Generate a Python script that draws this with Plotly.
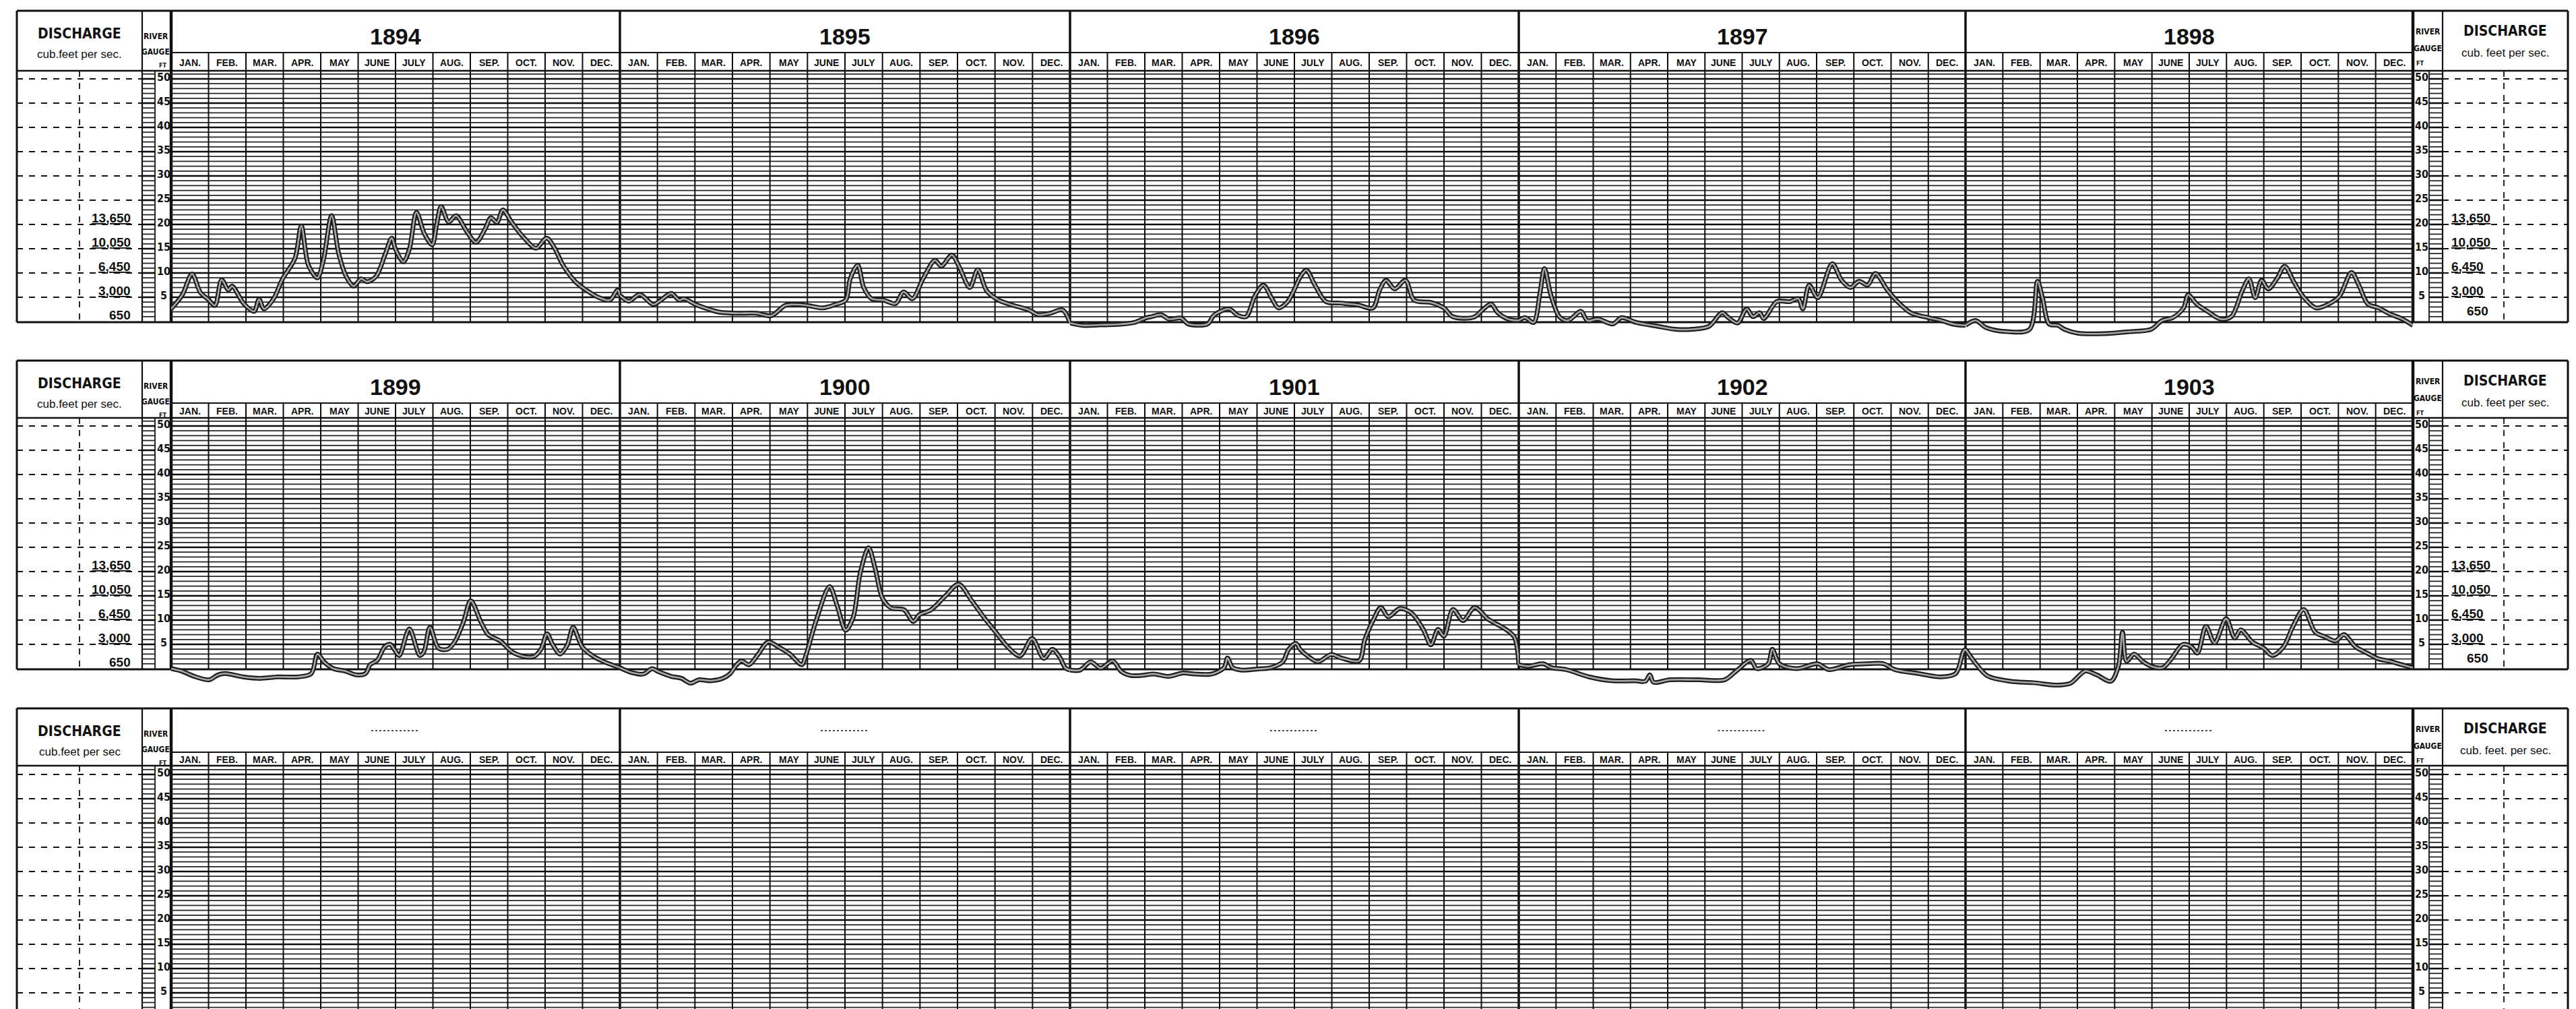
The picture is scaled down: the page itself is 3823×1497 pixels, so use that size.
import plotly.graph_objects as go

W, H = 3823, 1497
PX_FT = 7.2  # pixels per foot of gauge

# ---------------- text ----------------
YEARS_ROW1 = ["1894", "1895", "1896", "1897", "1898"]
YEARS_ROW2 = ["1899", "1900", "1901", "1902", "1903"]
MONTHS = ["JAN.", "FEB.", "MAR.", "APR.", "MAY", "JUNE", "JULY", "AUG.", "SEP.", "OCT.", "NOV.", "DEC."]
GAUGE_TICKS = [50, 45, 40, 35, 30, 25, 20, 15, 10, 5]
DISCHARGE_LABELS = ["13,650", "10,050", "6,450", "3,000", "650"]
DISCHARGE_AT_GAUGE = [20, 15, 10, 5, 0]

# ---------------- data: month position (0-12) and river gauge (ft) ----------------
m_1894 = [0.0, 0.3, 0.56, 0.78, 1.0, 1.17, 1.35, 1.53, 1.63, 1.94, 2.22, 2.35, 2.48, 2.74, 2.98, 3.31, 3.48, 3.67, 3.91,
          4.07, 4.29, 4.48, 4.68, 4.88, 5.08, 5.24, 5.48, 5.73, 5.9, 6.0, 6.21, 6.37, 6.56, 6.77, 6.98, 7.1, 7.22, 7.42,
          7.62, 7.9, 8.15, 8.39, 8.55, 8.71, 8.87, 9.11, 9.44, 9.76, 10.04, 10.24, 10.48, 10.81, 11.13, 11.45, 11.73,
          11.94, 12.0]
g_1894 = [2.6, 5.5, 9.8, 6.0, 4.5, 3.3, 8.6, 6.5, 7.3, 3.7, 2.1, 4.6, 2.6, 4.7, 8.8, 13.0, 19.7, 11.6, 9.0,
          12.6, 21.8, 14.0, 9.3, 7.3, 8.8, 8.2, 9.3, 14.0, 17.2, 14.9, 12.3, 14.9, 22.5, 18.1, 15.8, 20.0, 23.7, 20.5,
          21.8, 18.6, 16.3, 19.0, 21.4, 20.4, 23.0, 20.4, 17.2, 15.1, 17.2, 15.3, 11.6, 8.2, 6.3, 4.9, 4.4,
          6.5, 5.4]

m_1895 = [0.0, 0.24, 0.53, 0.89, 1.09, 1.37, 1.58, 1.7, 2.02, 2.34, 2.67, 3.15, 3.64, 4.04, 4.4, 4.6, 5.0, 5.41, 5.74,
          6.02, 6.14, 6.34, 6.5, 6.71, 7.03, 7.35, 7.56, 7.8, 8.08, 8.4, 8.57, 8.85, 9.05, 9.33, 9.54, 9.78, 10.1,
          10.5, 10.9, 11.15, 11.47, 11.8, 12.0]
g_1895 = [5.4, 4.2, 5.6, 3.5, 4.4, 5.8, 4.4, 4.7, 3.5, 2.6, 1.9, 1.7, 1.7, 1.2, 3.3, 3.5, 3.3, 2.8, 3.5,
          4.4, 8.8, 11.6, 7.0, 4.7, 4.4, 3.7, 6.1, 4.7, 8.8, 12.6, 11.4, 13.7, 11.2, 7.0, 10.7, 6.3, 4.4,
          3.3, 2.4, 1.4, 1.7, 2.4, -0.3]

m_1896 = [0.0, 0.34, 0.8, 1.26, 1.72, 2.01, 2.18, 2.44, 2.64, 2.97, 3.16, 3.68, 3.85, 4.25, 4.48, 4.71, 4.94, 5.17, 5.4,
          5.57, 5.8, 5.98, 6.15, 6.32, 6.55, 6.84, 7.24, 7.7, 8.1, 8.28, 8.45, 8.68, 8.97, 9.2, 9.66, 10.0, 10.23,
          10.8, 11.03, 11.26, 11.44, 11.72, 12.0]
g_1896 = [-0.3, -0.8, -0.7, -0.6, -0.2, 0.7, 1.0, 1.4, 0.5, 0.7, -0.5, -0.5, 1.3, 2.6, 1.3, 1.0, 5.2, 7.5, 4.7,
          2.8, 3.9, 6.3, 9.1, 10.6, 7.5, 4.1, 3.8, 3.4, 2.8, 6.5, 8.5, 6.7, 8.5, 4.4, 3.9, 2.8, 1.0,
          0.9, 2.4, 3.6, 1.8, 0.5, 0.2]

m_1897 = [0.0, 0.17, 0.4, 0.57, 0.69, 0.86, 1.09, 1.32, 1.67, 1.84, 2.13, 2.53, 2.76, 3.16, 3.74, 4.2, 4.66, 5.11, 5.46,
          5.63, 5.88, 6.12, 6.29, 6.47, 6.58, 6.93, 7.28, 7.51, 7.63, 7.8, 8.03, 8.42, 8.67, 8.91, 9.14, 9.37, 9.58,
          9.9, 10.2, 10.53, 11.0, 11.35, 11.7, 12.0]
g_1897 = [0.2, 0.8, -0.2, 5.9, 10.9, 5.5, 1.0, 0.2, 2.1, 0.2, 0.5, -0.5, 0.8, -0.2, -1.0, -1.6, -1.6, -1.0, 1.8,
          0.8, -0.3, 2.6, 1.0, 1.8, 0.6, 4.1, 4.1, 4.7, 2.6, 7.5, 4.9, 11.9, 8.5, 7.0, 8.3, 7.5, 9.9,
          6.5, 3.9, 1.8, 0.8, 0.2, -0.6, -0.8]

m_1898 = [0.0, 0.27, 0.56, 1.14, 1.72, 1.93, 2.07, 2.24, 2.48, 2.65, 3.0, 3.7, 4.4, 4.98, 5.27, 5.56, 5.85, 5.97, 6.2,
          6.49, 6.84, 7.13, 7.42, 7.6, 7.77, 7.94, 8.12, 8.35, 8.56, 8.81, 9.05, 9.4, 9.74, 10.03, 10.35, 10.56,
          10.79, 11.08, 11.37, 11.72, 12.0]
g_1898 = [-0.8, 0.2, -1.3, -2.1, -1.6, 8.3, 4.7, -0.5, -0.8, -1.6, -2.4, -2.5, -2.1, -1.6, 0.2, 0.8, 2.8, 5.5, 3.6,
          2.1, 0.5, 1.0, 6.3, 8.8, 4.9, 8.5, 6.7, 8.8, 11.4, 8.1, 5.2, 2.8, 3.6, 5.2, 10.1, 7.3,
          3.6, 2.8, 1.6, 0.5, -0.8]

m_1899 = [0.0, 0.27, 0.66, 1.02, 1.25, 1.45, 1.92, 2.38, 2.85, 3.4, 3.75, 3.91, 4.1, 4.34, 4.65, 4.96, 5.2, 5.32, 5.51,
          5.71, 5.86, 5.98, 6.1, 6.37, 6.65, 6.76, 6.92, 7.15, 7.39, 7.58, 7.82, 8.01, 8.29, 8.48, 8.8, 9.11, 9.42,
          9.7, 9.89, 10.05, 10.2, 10.4, 10.59, 10.75, 10.99, 11.3, 11.61, 12.0]
g_1899 = [0.0, -0.5, -1.7, -2.3, -1.3, -1.0, -1.7, -2.0, -1.7, -1.7, -1.0, 3.0, 1.3, 0.0, -0.5, -1.3, -1.0, 0.8, 1.7,
          4.5, 5.0, 3.8, 2.7, 8.2, 2.7, 3.5, 8.5, 4.2, 4.0, 5.5, 9.7, 14.0, 9.5, 7.0, 5.7, 3.5, 2.5,
          2.5, 4.0, 7.2, 5.0, 3.0, 4.8, 8.5, 4.5, 2.5, 1.3, 0.2]

m_1900 = [0.0, 0.31, 0.63, 0.86, 1.02, 1.37, 1.64, 1.88, 2.11, 2.42, 2.74, 2.93, 3.09, 3.24, 3.44, 3.67, 3.95, 4.22,
          4.53, 4.85, 4.96, 5.24, 5.59, 5.79, 6.02, 6.22, 6.41, 6.63, 6.8, 7.0, 7.23, 7.58, 7.82, 7.98, 8.29, 8.68,
          9.03, 9.38, 9.7, 10.0, 10.36, 10.67, 10.99, 11.3, 11.53, 11.73, 11.88, 12.0]
g_1900 = [0.2, -0.8, -1.1, 0.0, -0.6, -1.6, -2.0, -3.0, -2.3, -2.5, -2.0, -1.1, 0.6, 1.6, 0.8, 2.8, 5.5, 4.5,
          3.0, 0.8, 2.8, 10.1, 16.9, 13.0, 7.9, 10.6, 19.8, 24.9, 20.8, 14.5, 12.5, 12.1, 9.7, 11.1, 12.1, 15.0,
          17.4, 14.0, 10.6, 7.7, 4.3, 2.6, 6.2, 2.1, 4.0, 2.3, 0.1, -0.3]

m_1901 = [0.0, 0.27, 0.55, 0.82, 1.14, 1.37, 1.61, 1.92, 2.24, 2.63, 3.02, 3.33, 3.8, 4.12, 4.21, 4.35, 4.59, 4.98,
          5.37, 5.69, 5.84, 6.04, 6.16, 6.39, 6.63, 6.98, 7.25, 7.73, 7.88, 8.12, 8.31, 8.51, 8.82, 9.14, 9.45,
          9.65, 9.84, 10.0, 10.24, 10.51, 10.82, 11.18, 11.65, 11.88, 12.0]
g_1901 = [-0.3, -0.3, 1.4, 0.1, 1.6, -0.6, -1.4, -1.4, -1.1, -1.6, -0.9, -1.1, -1.1, 0.2, 2.2, 0.2, -0.3, -0.1,
          0.2, 1.4, 3.9, 5.2, 3.9, 2.4, 1.4, 2.9, 2.2, 1.6, 5.9, 10.2, 12.6, 10.7, 12.4, 11.4, 8.0,
          4.9, 8.1, 6.7, 12.2, 9.9, 12.6, 10.2, 8.1, 6.5, 0.8]

m_1902 = [0.0, 0.26, 0.65, 0.88, 1.27, 1.89, 2.51, 3.13, 3.4, 3.52, 3.62, 4.06, 4.84, 5.53, 5.84, 6.23, 6.39, 6.7,
          6.81, 7.0, 7.47, 8.02, 8.33, 8.87, 9.33, 9.8, 10.1, 10.73, 11.35, 11.74, 11.94, 12.0]
g_1902 = [0.8, 0.5, 1.0, 0.2, -0.2, -1.7, -2.5, -2.5, -2.6, -1.3, -2.8, -2.3, -2.3, -2.3, -0.5, 1.7, 0.0, 1.0,
          4.0, 1.0, 0.0, 1.0, -0.2, 0.8, 1.0, 1.0, -0.2, -1.0, -1.7, -1.0, 3.5, 4.0]

m_1903 = [0.0, 0.28, 0.59, 1.2, 1.82, 2.44, 2.82, 3.21, 3.52, 3.9, 4.1, 4.21, 4.32, 4.52, 4.75, 4.98, 5.29, 5.52,
          5.83, 6.06, 6.22, 6.45, 6.68, 6.99, 7.22, 7.38, 7.69, 8.0, 8.23, 8.53, 8.77, 9.07, 9.38, 9.66, 9.92,
          10.15, 10.46, 10.77, 11.08, 11.39, 11.7, 12.0]
g_1903 = [4.0, 1.0, -1.5, -2.6, -2.9, -3.4, -3.0, -0.5, -1.3, -2.6, 0.5, 7.5, 1.5, 3.0, 1.5, 0.5, 0.2, 2.0,
          5.0, 4.5, 3.2, 8.7, 5.3, 10.3, 6.3, 8.0, 5.5, 4.2, 2.7, 4.5, 8.5, 12.2, 7.5, 6.5, 5.7,
          7.0, 4.5, 3.2, 2.0, 1.5, 0.8, 0.2]

SERIES_ROW1 = [(m_1894, g_1894), (m_1895, g_1895), (m_1896, g_1896), (m_1897, g_1897), (m_1898, g_1898)]
SERIES_ROW2 = [(m_1899, g_1899), (m_1900, g_1900), (m_1901, g_1901), (m_1902, g_1902), (m_1903, g_1903)]

# ---------------- sheet geometry (pixels) ----------------
PANEL_X = [246, 912, 1580, 2246, 2909, 3573]
ROW_TOP = [8, 527, 1043]
ROW_MT = [70, 590, 1108]     # top of month header band
ROW_HB = [97, 612, 1128]     # bottom of header
ROW_G0 = [469, 984, 1501]    # gauge zero line
ROW_BOT = [470, 985, 1520]   # frame bottom
L_BOX = (17, 203)
L_DASH_X = 110
L_STRIP = (203, 222)
R_STRIP = (3597, 3617)
R_BOX = (3617, 3803)
R_DASH_X = 3708

FONT = "Liberation Sans Narrow, DejaVu Sans Condensed, Roboto Condensed, Arial Narrow, Liberation Sans, sans-serif"
FONT_W = "Liberation Sans, DejaVu Sans, Arial, sans-serif"
INK = "#111111"

fig = go.Figure()
shapes = []
annotations = []


def line(x0, y0, x1, y1, w=2.0, color=INK, dash=None):
    d = dict(color=color, width=w)
    if dash:
        d["dash"] = dash
    shapes.append(dict(type="line", xref="x", yref="y", x0=x0, y0=y0, x1=x1, y1=y1,
                       line=d, layer="below"))


def text(x, y, s, size, bold=True, xanchor="center", family=FONT, color=INK):
    annotations.append(dict(x=x, y=y, xref="x", yref="y", text=(f"<b>{s}</b>" if bold else s),
                            showarrow=False, xanchor=xanchor, yanchor="middle",
                            font=dict(family=family, size=size, color=color)))


# ---------------- ruled grid (drawn as traces on the page axis) ----------------
lx, ly, hx, hy, vx, vy = [], [], [], [], [], []
for r in range(3):
    g0, hb, mt, bot = ROW_G0[r], ROW_HB[r], ROW_MT[r], min(ROW_BOT[r], H)
    for k in range(1, 53):
        y = g0 - k * PX_FT
        if y <= hb + 2 or y >= H:
            continue
        tx, ty = (hx, hy) if k % 5 == 0 else (lx, ly)
        for (a, b) in [(PANEL_X[0], PANEL_X[-1]), L_STRIP, R_STRIP]:
            tx += [a, b, None]
            ty += [y, y, None]
    for p in range(5):
        x0, x1 = PANEL_X[p], PANEL_X[p + 1]
        for m in range(1, 12):
            x = x0 + (x1 - x0) * m / 12
            vx += [x, x, None]
            vy += [mt, bot, None]

fig.add_trace(go.Scatter(x=lx, y=ly, mode="lines", line=dict(color="#262626", width=1.8),
                         hoverinfo="skip", showlegend=False))
fig.add_trace(go.Scatter(x=hx, y=hy, mode="lines", line=dict(color="#0d0d0d", width=2.6),
                         hoverinfo="skip", showlegend=False))
fig.add_trace(go.Scatter(x=vx, y=vy, mode="lines", line=dict(color="#0d0d0d", width=2.0),
                         hoverinfo="skip", showlegend=False))

# ---------------- frames, labels ----------------
for r in range(3):
    top, mt, hb, g0, bot = ROW_TOP[r], ROW_MT[r], ROW_HB[r], ROW_G0[r], ROW_BOT[r]
    # outer frame
    line(L_BOX[0], top, R_BOX[1], top, 3)
    line(L_BOX[0], bot, R_BOX[1], bot, 3)
    line(L_BOX[0], top, L_BOX[0], bot, 3)
    line(R_BOX[1], top, R_BOX[1], bot, 3)
    # columns
    line(L_BOX[1], top, L_BOX[1], bot, 2.2)
    line(L_STRIP[1], hb, L_STRIP[1], bot, 1.8)
    line(R_STRIP[0], hb, R_STRIP[0], bot, 1.8)
    line(R_BOX[0], top, R_BOX[0], bot, 2.2)
    for i, x in enumerate(PANEL_X):
        line(x, top, x, bot, 4.5 if i in (0, 5) else 3.5)
    line(PANEL_X[0], mt, PANEL_X[-1], mt, 2.2)
    line(L_BOX[0], hb, R_BOX[1], hb, 2.4)
    # dashed discharge rules
    for k in GAUGE_TICKS:
        y = g0 - k * PX_FT
        line(L_BOX[0], y, L_BOX[1], y, 1.8, dash="dash")
        line(R_BOX[0], y, R_BOX[1], y, 1.8, dash="dash")
    line(L_DASH_X, hb, L_DASH_X, min(bot, H), 1.8, dash="dash")
    line(R_DASH_X, hb, R_DASH_X, min(bot, H), 1.8, dash="dash")

    # headers
    text(110, top + 34, "DISCHARGE", 21)
    text(110, top + 64, "cub.feet per sec." if r < 2 else "cub.feet per sec", 17, bold=False, family=FONT_W)
    text(223, top + 38, "RIVER", 12)
    text(223, top + 61, "GAUGE", 12)
    text(234, top + 81, "FT", 9)
    text(3595, top + 31, "RIVER", 12)
    text(3595, top + 56, "GAUGE", 12)
    text(3584, top + 78, "FT", 9)
    text(3710, top + 30, "DISCHARGE", 21)
    text(3710, top + 62, "cub. feet per sec." if r < 2 else "cub. feet. per sec.", 17, bold=False, family=FONT_W)

    # gauge scale numbers
    for k in GAUGE_TICKS:
        y = g0 - k * PX_FT
        text(235, y - 3, str(k), 16)
        text(3586, y - 3, str(k), 16)

    # month names
    for p in range(5):
        x0, x1 = PANEL_X[p], PANEL_X[p + 1]
        for m, name in enumerate(MONTHS):
            text(x0 + (x1 - x0) * (m + 0.5) / 12, (mt + hb) / 2 + 1, name, 14, family=FONT_W)

    # discharge numbers
    if r < 2:
        for lab, gv in zip(DISCHARGE_LABELS, DISCHARGE_AT_GAUGE):
            y = g0 - gv * PX_FT - 10
            if gv == 0:
                text(188, y, lab, 19, xanchor="right", family=FONT_W)
                text(3669, y - 6, lab, 19, family=FONT_W)
            else:
                text(188, y, f"<u>{lab}</u>", 19, xanchor="right", family=FONT_W)
                text(3628, y, f"<u>{lab}</u>", 19, xanchor="left", family=FONT_W)

# year titles
for p, yr in enumerate(YEARS_ROW1):
    text((PANEL_X[p] + PANEL_X[p + 1]) / 2, ROW_TOP[0] + 38, yr, 34, family=FONT_W)
for p, yr in enumerate(YEARS_ROW2):
    text((PANEL_X[p] + PANEL_X[p + 1]) / 2, ROW_TOP[1] + 39, yr, 34, family=FONT_W)
# empty year slots of the third row
for p in range(5):
    c = (PANEL_X[p] + PANEL_X[p + 1]) / 2
    line(c - 36, ROW_TOP[2] + 33, c + 36, ROW_TOP[2] + 33, 1.6, dash="dot")

# ---------------- hydrograph curves on per-year subplots ----------------
layout_axes = {}
idx = 2
for r, series in enumerate([SERIES_ROW1, SERIES_ROW2]):
    hb, g0 = ROW_HB[r], ROW_G0[r]
    ybot = g0 + 48
    for p, (mx, gy) in enumerate(series):
        xa, ya = f"x{idx}", f"y{idx}"
        layout_axes[f"xaxis{idx}"] = dict(domain=[PANEL_X[p] / W, PANEL_X[p + 1] / W], range=[0, 12],
                                          visible=False, anchor=ya, fixedrange=True)
        layout_axes[f"yaxis{idx}"] = dict(domain=[1 - ybot / H, 1 - hb / H],
                                          range=[-(ybot - g0) / PX_FT, (g0 - hb) / PX_FT],
                                          visible=False, anchor=xa, fixedrange=True)
        fig.add_trace(go.Scatter(x=mx, y=gy, mode="lines", xaxis=xa, yaxis=ya,
                                 line=dict(color="#1c1c1c", width=7, shape="spline", smoothing=0.9),
                                 hoverinfo="skip", showlegend=False))
        fig.add_trace(go.Scatter(x=mx, y=gy, mode="lines", xaxis=xa, yaxis=ya,
                                 line=dict(color="#a8a8a8", width=2.6, shape="spline", smoothing=0.9),
                                 hoverinfo="skip", showlegend=False))
        idx += 1

fig.update_layout(
    width=W, height=H,
    margin=dict(l=0, r=0, t=0, b=0),
    paper_bgcolor="white", plot_bgcolor="rgba(0,0,0,0)",
    showlegend=False, hovermode=False,
    xaxis=dict(domain=[0, 1], range=[0, W], visible=False, fixedrange=True),
    yaxis=dict(domain=[0, 1], range=[H, 0], visible=False, fixedrange=True),
    shapes=shapes, annotations=annotations,
    **layout_axes,
)

fig.write_html("out.html")
